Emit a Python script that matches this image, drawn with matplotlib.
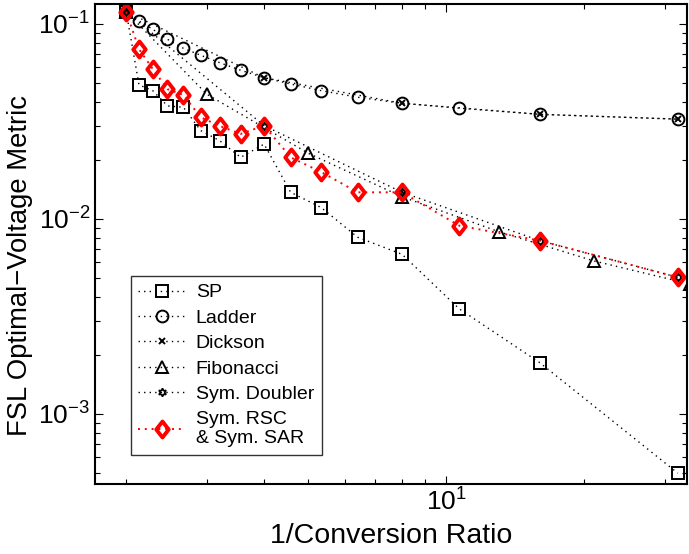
import matplotlib.pyplot as plt
from matplotlib.path import Path
from matplotlib.ticker import LogLocator, NullFormatter

plt.rcParams['font.family'] = ['Liberation Sans', 'DejaVu Sans']
plt.rcParams['mathtext.fontset'] = 'custom'
plt.rcParams['mathtext.rm'] = 'Liberation Sans'
plt.rcParams['mathtext.it'] = 'Liberation Sans:italic'

# 1/conversion ratio = 32/k, k = 16..1
ratio = [32 / k for k in range(16, 0, -1)]

sp = [0.1156, 0.0487, 0.0455, 0.0380, 0.0374, 0.0284, 0.0252, 0.0207,
      0.0242, 0.0137, 0.01143, 0.00806, 0.00659, 0.00346, 0.00183, 0.000497]
ladder = [0.1156, 0.1036, 0.0939, 0.0834, 0.0750, 0.0691, 0.0633, 0.0579,
          0.0530, 0.0492, 0.0455, 0.0421, 0.0392, 0.0370, 0.0344, 0.0325]
rsc = [0.1156, 0.0742, 0.0588, 0.0463, 0.0432, 0.0332, 0.0300, 0.0273,
       0.0301, 0.0207, 0.0174, 0.0137, 0.0137, 0.00924, 0.00774, 0.00502]

dickson_x = [2, 4, 8, 16, 32]
dickson = [0.1156, 0.0530, 0.0392, 0.0344, 0.0325]

fib_x = [2, 3, 5, 8, 13, 21, 34]
fib = [0.1156, 0.0436, 0.0217, 0.0130, 0.00861, 0.00609, 0.00464]

doubler_x = [2, 4, 8, 16, 32]
doubler = [0.1156, 0.0301, 0.0137, 0.00774, 0.00502]

# slightly tall diamond like the matlab one
diamond = Path([(0, 1), (0.78, 0), (0, -1), (-0.78, 0), (0, 1)],
               [Path.MOVETO, Path.LINETO, Path.LINETO, Path.LINETO, Path.CLOSEPOLY])

fig = plt.figure(figsize=(6.89, 5.54), dpi=100)
ax = fig.add_axes([0.1379, 0.1264, 0.8591, 0.8664])

dots = (0, (1, 3))
ax.plot(ratio, sp, color='k', ls=dots, lw=1, marker='s', ms=8,
        mfc='none', mec='k', mew=1.4, label='SP')
ax.plot(ratio, ladder, color='k', ls=dots, lw=1, marker='o', ms=8.5,
        mfc='none', mec='k', mew=1.4, label='Ladder')
ax.plot(dickson_x, dickson, color='k', ls=dots, lw=1, marker='x', ms=5,
        mfc='none', mec='k', mew=1.4, label='Dickson')
ax.plot(fib_x, fib, color='k', ls=dots, lw=1, marker='^', ms=9,
        mfc='none', mec='k', mew=1.4, label='Fibonacci')
ax.plot(doubler_x, doubler, color='k', ls=dots, lw=1, marker=(6, 1, 0), ms=6,
        mfc='none', mec='k', mew=1.2, label='Sym. Doubler')
ax.plot(ratio, rsc, color='red', ls=(0, (1, 2.5)), lw=1.4, marker=diamond, ms=11.5,
        mfc='none', mec='red', mew=2.8, label='Sym. RSC\n& Sym. SAR')

ax.set_xscale('log')
ax.set_yscale('log')
ax.set_xlim(1.71, 33.5)
ax.set_ylim(4.375e-4, 0.1266)

ax.xaxis.set_major_locator(LogLocator(base=10, numticks=10))
ax.xaxis.set_minor_locator(LogLocator(base=10, subs=range(2, 10), numticks=20))
ax.xaxis.set_minor_formatter(NullFormatter())
ax.yaxis.set_minor_locator(LogLocator(base=10, subs=range(2, 10), numticks=20))
ax.yaxis.set_minor_formatter(NullFormatter())

ax.tick_params(which='both', direction='in', top=True, right=True,
               labelsize=19, width=0.8, colors='k')
ax.tick_params(which='major', length=6)
ax.tick_params(which='minor', length=3.5)
for s in ax.spines.values():
    s.set_linewidth(1.5)

ax.set_xlabel('1/Conversion Ratio', fontsize=20.5, labelpad=5)
ax.set_ylabel('FSL Optimal\u2212Voltage Metric', fontsize=19.7)
ax.yaxis.set_label_coords(-0.105, 0.455)

leg = ax.legend(loc='lower left', bbox_to_anchor=(0.06, 0.06), fontsize=14,
                frameon=True, fancybox=False, handlelength=2.4,
                handletextpad=0.55, labelspacing=0.4, borderpad=0.4,
                borderaxespad=0)
leg.get_frame().set_edgecolor('k')
leg.get_frame().set_linewidth(1.0)

fig.savefig('out.png', dpi=100)
